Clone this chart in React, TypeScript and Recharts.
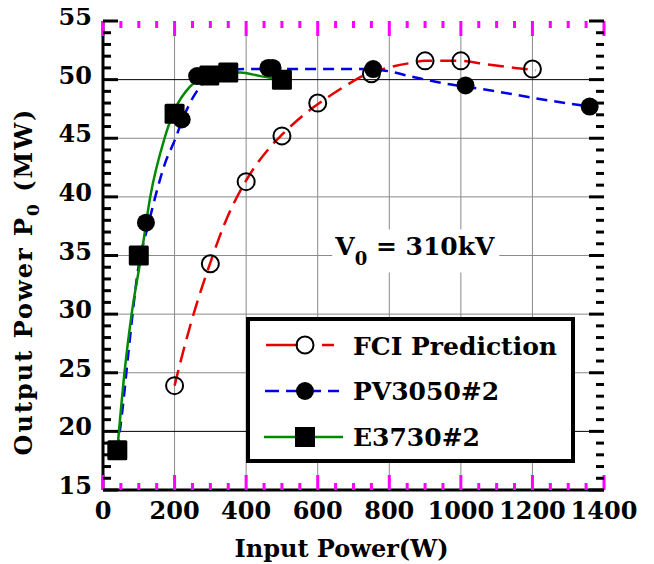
import React from 'react';
import {
  ComposedChart,
  Line,
  Scatter,
  XAxis,
  YAxis,
  CartesianGrid,
  ReferenceLine,
  ReferenceDot,
  Legend,
} from 'recharts';

const FONT = '"DejaVu Serif", serif';

// axis ranges and tick values
const X_DOMAIN = [0, 1400];
const Y_DOMAIN = [15, 55];
const xTicks = [
  0, 50, 100, 150, 200, 250, 300, 350, 400, 450, 500, 550, 600, 650, 700, 750,
  800, 850, 900, 950, 1000, 1050, 1100, 1150, 1200, 1250, 1300, 1350, 1400,
];
const yTicks = [
  15, 16, 17, 18, 19, 20, 21, 22, 23, 24, 25, 26, 27, 28, 29, 30, 31, 32, 33, 34,
  35, 36, 37, 38, 39, 40, 41, 42, 43, 44, 45, 46, 47, 48, 49, 50, 51, 52, 53, 54, 55,
];
const xGrid = [200, 400, 600, 800, 1000, 1200];
const yGrid = [25, 30, 35, 40, 45];
const yGridDark = [20, 50];

// measured points
const fciPoints = [
  { x: 200, y: 23.9 }, { x: 300, y: 34.3 }, { x: 400, y: 41.3 }, { x: 500, y: 45.2 },
  { x: 600, y: 48.0 }, { x: 750, y: 50.5 }, { x: 900, y: 51.6 }, { x: 1000, y: 51.6 },
  { x: 1200, y: 50.9 },
];
const pvPoints = [
  { x: 40, y: 18.4 }, { x: 120, y: 37.8 }, { x: 220, y: 46.6 }, { x: 263, y: 50.3 },
  { x: 462, y: 51.0 }, { x: 474, y: 51.0 }, { x: 755, y: 50.9 }, { x: 1013, y: 49.5 },
  { x: 1360, y: 47.7 },
];
const ePoints = [
  { x: 40, y: 18.4 }, { x: 100, y: 35.0 }, { x: 200, y: 47.1 }, { x: 297, y: 50.35 },
  { x: 350, y: 50.6 }, { x: 500, y: 50.0 },
];

// fitted curves
const fciCurve = [
  { x: 200, y: 23.9 }, { x: 230, y: 27.5 }, { x: 259, y: 30.6 }, { x: 300, y: 34.4 },
  { x: 341, y: 37.8 }, { x: 400, y: 41.4 }, { x: 463, y: 44.1 }, { x: 500, y: 45.3 },
  { x: 561, y: 47.0 }, { x: 600, y: 47.9 }, { x: 679, y: 49.5 }, { x: 718, y: 50.2 },
  { x: 750, y: 50.6 }, { x: 807, y: 51.1 }, { x: 856, y: 51.4 }, { x: 900, y: 51.6 },
  { x: 1000, y: 51.6 }, { x: 1072, y: 51.3 }, { x: 1151, y: 51.0 }, { x: 1210, y: 50.8 },
];
const pvCurve = [
  { x: 40, y: 18.4 }, { x: 55, y: 22 }, { x: 72, y: 27 }, { x: 98, y: 33.8 },
  { x: 128, y: 37.8 }, { x: 146, y: 40 }, { x: 175, y: 43 }, { x: 200, y: 44.8 },
  { x: 225, y: 46.8 }, { x: 252, y: 48.5 }, { x: 280, y: 49.7 }, { x: 320, y: 50.5 },
  { x: 400, y: 50.9 }, { x: 520, y: 50.9 }, { x: 630, y: 50.9 }, { x: 730, y: 50.9 },
  { x: 780, y: 50.8 }, { x: 870, y: 50.2 }, { x: 950, y: 49.7 }, { x: 1080, y: 49.1 },
  { x: 1210, y: 48.4 }, { x: 1360, y: 47.7 },
];
const eCurve = [
  { x: 40, y: 18.4 }, { x: 60, y: 25 }, { x: 80, y: 30 }, { x: 107, y: 35 },
  { x: 132, y: 40 }, { x: 172, y: 45 }, { x: 200, y: 47.4 }, { x: 243, y: 49.4 },
  { x: 290, y: 50.3 }, { x: 350, y: 50.6 }, { x: 383, y: 50.6 }, { x: 440, y: 50.3 },
  { x: 500, y: 50.0 },
];

// tick comb points along the frame (major / minor)
const bottomMajor = xTicks.filter((v) => v % 200 === 0).map((v) => ({ x: v, y: 15 }));
const bottomMinor = xTicks.filter((v) => v % 200 !== 0).map((v) => ({ x: v, y: 15 }));
const topMajor = xTicks.filter((v) => v % 200 === 0).map((v) => ({ x: v, y: 55 }));
const topMinor = xTicks.filter((v) => v % 200 !== 0).map((v) => ({ x: v, y: 55 }));
const leftMajor = yTicks.filter((v) => v % 5 === 0).map((v) => ({ x: 0, y: v }));
const leftMinor = yTicks.filter((v) => v % 5 !== 0).map((v) => ({ x: 0, y: v }));
const rightMajor = yTicks.filter((v) => v % 5 === 0).map((v) => ({ x: 1400, y: v }));
const rightMinor = yTicks.filter((v) => v % 5 !== 0).map((v) => ({ x: 1400, y: v }));

const RED = '#e60000';
const BLUE = '#0000e6';
const GREEN = '#008a00';
const TICK = '#000';
const TICK_CHECK = '#ff00ff';

const tickText = { fontFamily: FONT, fontWeight: 'bold' as const, fontSize: 24, fill: '#000' };

const BottomLabel = (props: any) => {
  const { x, y, payload } = props;
  if (payload.value % 200 !== 0) return <g />;
  return (
    <text x={x} y={y + 29} textAnchor="middle" {...tickText}>
      {payload.value}
    </text>
  );
};

const LeftLabel = (props: any) => {
  const { x, y, payload } = props;
  if (payload.value % 5 !== 0) return <g />;
  return (
    <text x={x - 11} y={y + 4} textAnchor="end" {...tickText}>
      {payload.value}
    </text>
  );
};

// tick mark shapes pointing into the plot (top/bottom in a check colour for now)
const UpLong = (p: any) => <rect x={p.cx - 1.5} y={p.cy - 15} width={3} height={15} fill={TICK_CHECK} />;
const UpShort = (p: any) => <rect x={p.cx - 1.5} y={p.cy - 7} width={3} height={7} fill={TICK_CHECK} />;
const DownLong = (p: any) => <rect x={p.cx - 1.5} y={p.cy} width={3} height={15} fill={TICK_CHECK} />;
const DownShort = (p: any) => <rect x={p.cx - 1.5} y={p.cy} width={3} height={7} fill={TICK_CHECK} />;
const RightLong = (p: any) => <rect x={p.cx} y={p.cy - 1.5} width={15} height={3} fill={TICK} />;
const RightShort = (p: any) => <rect x={p.cx} y={p.cy - 1.5} width={8} height={3} fill={TICK} />;
const LeftLong = (p: any) => <rect x={p.cx - 15} y={p.cy - 1.5} width={15} height={3} fill={TICK} />;
const LeftShort = (p: any) => <rect x={p.cx - 8} y={p.cy - 1.5} width={8} height={3} fill={TICK} />;

const OpenCircle = (p: any) => (
  <circle cx={p.cx} cy={p.cy} r={8.5} fill="none" stroke="#000" strokeWidth={2} />
);
const FilledCircle = (p: any) => <circle cx={p.cx} cy={p.cy} r={9} fill="#000" />;
const FilledSquare = (p: any) => (
  <rect x={p.cx - 10} y={p.cy - 10} width={20} height={20} rx={1.5} fill="#000" />
);

const LegendBox = () => (
  <svg width={329} height={146} style={{ display: 'block' }}>
    <rect x={2} y={2} width={325} height={142} fill="#fff" stroke="#000" strokeWidth={4} />
    <line x1={20} x2={90} y1={28} y2={28} stroke={RED} strokeWidth={2.5} strokeDasharray="32 24 12 100" />
    <circle cx={59} cy={28} r={8.5} fill="none" stroke="#000" strokeWidth={2} />
    <line x1={19} x2={93} y1={74} y2={74} stroke={BLUE} strokeWidth={2.5} strokeDasharray="14 7" />
    <circle cx={59} cy={74} r={9} fill="#000" />
    <line x1={18} x2={97} y1={120} y2={120} stroke={GREEN} strokeWidth={2.5} />
    <rect x={49} y={110} width={20} height={20} fill="#000" />
    <g fontFamily={FONT} fontWeight="bold" fontSize={25} fill="#000">
      <text x={107} y={38}>FCI Prediction</text>
      <text x={107} y={83}>PV3050#2</text>
      <text x={107} y={129}>E3730#2</text>
    </g>
  </svg>
);

const VoltageNote = (props: any) => {
  const { viewBox } = props;
  const cx = viewBox.x + (viewBox.width || 0) / 2;
  const cy = viewBox.y + (viewBox.height || 0) / 2;
  return (
    <g>
      <rect x={cx - 57} y={cy - 26} width={167} height={43} fill="#fff" />
      <text x={cx - 54} y={cy - 1} fontFamily={FONT} fontWeight="bold" fontSize={25} fill="#000">
        V<tspan fontSize={18} dy={10}>0</tspan>
        <tspan dy={-10}> = 310kV</tspan>
      </text>
    </g>
  );
};

const XTitle = (props: any) => {
  const { viewBox } = props;
  return (
    <text x={viewBox.x + viewBox.width / 2 - 12} y={viewBox.y + 67} textAnchor="middle"
      fontFamily={FONT} fontWeight="bold" fontSize={24} fill="#000">
      Input Power(W)
    </text>
  );
};

const YTitle = (props: any) => {
  const { viewBox } = props;
  const cy = viewBox.y + viewBox.height / 2 + 26;
  return (
    <text transform={`translate(${24}, ${cy}) rotate(-90)`} textAnchor="middle"
      fontFamily={FONT} fontWeight="bold" fontSize={24} letterSpacing={2} fill="#000">
      Output Power P<tspan fontSize={17} dy={7}>0</tspan>
      <tspan dy={-7}> (MW)</tspan>
    </text>
  );
};

const frame = { stroke: '#000', strokeWidth: 3 };

export default function App() {
  return (
    <ComposedChart width={646} height={556} margin={{ top: 13, right: 50, bottom: 0, left: 0 }}>
      <CartesianGrid xAxisId="b" yAxisId="l" verticalValues={xGrid} horizontalValues={yGrid}
        stroke="#8a8a8a" strokeWidth={1} />
      {yGridDark.map((v) => (
        <ReferenceLine key={v} xAxisId="b" yAxisId="l" y={v} stroke="#000" strokeWidth={1} />
      ))}
      <XAxis xAxisId="b" dataKey="x" type="number" domain={X_DOMAIN} ticks={xTicks} interval={0}
        height={74} tickSize={0} tickMargin={0} tickLine={false} axisLine={frame}
        tick={BottomLabel} label={{ content: XTitle }} />
      <XAxis xAxisId="t" orientation="top" type="number" domain={X_DOMAIN} allowDataOverflow
        height={0} tickLine={false} axisLine={frame} tick={false} />
      <YAxis yAxisId="l" dataKey="y" type="number" domain={Y_DOMAIN} ticks={yTicks} interval={0}
        width={95} tickSize={0} tickMargin={0} tickLine={false} axisLine={frame}
        tick={LeftLabel} label={{ content: YTitle }} />
      <YAxis yAxisId="r" orientation="right" type="number" domain={Y_DOMAIN} allowDataOverflow
        width={0} tickLine={false} axisLine={frame} tick={false} />
      <Line xAxisId="b" yAxisId="l" data={fciCurve} dataKey="y" type="monotone" stroke={RED}
        strokeWidth={2.5} strokeDasharray="16 8" dot={false} activeDot={false}
        isAnimationActive={false} legendType="none" />
      <Line xAxisId="b" yAxisId="l" data={pvCurve} dataKey="y" type="monotone" stroke={BLUE}
        strokeWidth={2.5} strokeDasharray="11 7" dot={false} activeDot={false}
        isAnimationActive={false} legendType="none" />
      <Line xAxisId="b" yAxisId="l" data={eCurve} dataKey="y" type="monotone" stroke={GREEN}
        strokeWidth={2.5} dot={false} activeDot={false} isAnimationActive={false} legendType="none" />
      <Scatter xAxisId="b" yAxisId="l" name="FCI Prediction" data={fciPoints} dataKey="y"
        shape={OpenCircle} isAnimationActive={false} />
      <Scatter xAxisId="b" yAxisId="l" name="PV3050#2" data={pvPoints} dataKey="y"
        shape={FilledCircle} isAnimationActive={false} />
      <Scatter xAxisId="b" yAxisId="l" name="E3730#2" data={ePoints} dataKey="y"
        shape={FilledSquare} isAnimationActive={false} />
      <Scatter xAxisId="b" yAxisId="l" data={bottomMajor} dataKey="y" shape={UpLong}
        legendType="none" isAnimationActive={false} />
      <Scatter xAxisId="b" yAxisId="l" data={bottomMinor} dataKey="y" shape={UpShort}
        legendType="none" isAnimationActive={false} />
      <Scatter xAxisId="b" yAxisId="l" data={topMajor} dataKey="y" shape={DownLong}
        legendType="none" isAnimationActive={false} />
      <Scatter xAxisId="b" yAxisId="l" data={topMinor} dataKey="y" shape={DownShort}
        legendType="none" isAnimationActive={false} />
      <Scatter xAxisId="b" yAxisId="l" data={leftMajor} dataKey="y" shape={RightLong}
        legendType="none" isAnimationActive={false} />
      <Scatter xAxisId="b" yAxisId="l" data={leftMinor} dataKey="y" shape={RightShort}
        legendType="none" isAnimationActive={false} />
      <Scatter xAxisId="b" yAxisId="l" data={rightMajor} dataKey="y" shape={LeftLong}
        legendType="none" isAnimationActive={false} />
      <Scatter xAxisId="b" yAxisId="l" data={rightMinor} dataKey="y" shape={LeftShort}
        legendType="none" isAnimationActive={false} />
      <ReferenceDot xAxisId="b" yAxisId="l" x={800} y={35} r={0} stroke="none" fill="none"
        label={{ content: VoltageNote }} />
      <Legend layout="vertical" align="center" verticalAlign="middle"
        wrapperStyle={{ left: 238, top: 309, width: 329, height: 146 }}
        content={() => <LegendBox />} />
    </ComposedChart>
  );
}
